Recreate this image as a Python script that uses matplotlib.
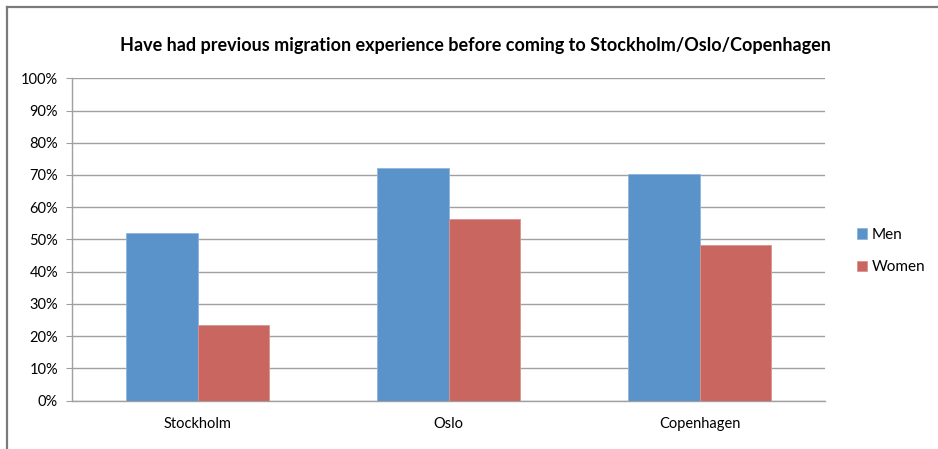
import matplotlib
matplotlib.use("Agg")
import matplotlib.pyplot as plt
from matplotlib.ticker import FuncFormatter, MultipleLocator
from matplotlib.lines import Line2D
import numpy as np

categories = ["Stockholm", "Oslo", "Copenhagen"]
men = [51.9, 72.1, 70.2]
women = [23.4, 56.4, 48.2]
series_names = ["Men", "Women"]
title = "Have had previous migration experience before coming to Stockholm/Oslo/Copenhagen"

plt.rcParams['font.family'] = ['Lato', 'DejaVu Sans']

fig = plt.figure(figsize=(9.38, 4.49), dpi=100)
bx, by = 7/938, 1 - 6.5/449
fig.lines.append(Line2D([bx, 1.01], [by, by], transform=fig.transFigure, color='#7a7a7a', linewidth=1.6))
fig.lines.append(Line2D([bx, bx], [-0.01, by], transform=fig.transFigure, color='#7a7a7a', linewidth=1.6))

ax = fig.add_axes([72/938, 1 - 400.5/449, (825 - 72)/938, (400.5 - 78.3)/449])

x = np.arange(len(categories))
w = 0.286
ax.bar(x - w/2, men, w, color='#5A93C9', edgecolor='#8FB4DC', linewidth=0.6, label=series_names[0], zorder=3)
ax.bar(x + w/2, women, w, color='#C9665F', edgecolor='#D99490', linewidth=0.6, label=series_names[1], zorder=3)

ax.set_xlim(-0.5, 2.5)
ax.set_ylim(0, 100)
ax.yaxis.set_major_locator(MultipleLocator(10))
ax.yaxis.set_major_formatter(FuncFormatter(lambda v, p: f"{int(v)}%"))
ax.set_xticks(x)
ax.set_xticklabels(categories, fontsize=10.5)
ax.tick_params(axis='y', labelsize=10.5, length=4, color='#a0a0a0', pad=6)
ax.tick_params(axis='x', length=0, pad=12)
ax.grid(axis='y', color='#a0a0a0', linewidth=1.0, zorder=0)
for s in ['top', 'right']:
    ax.spines[s].set_visible(False)
for s in ['left', 'bottom']:
    ax.spines[s].set_color('#a0a0a0')
    ax.spines[s].set_linewidth(1.0)

fig.text(475/938, 1 - 45/449, title, ha='center', va='center', fontsize=13, fontweight='bold')

leg = ax.legend(loc='center left', bbox_to_anchor=(851/938, 1 - 251/449), bbox_transform=fig.transFigure,
                frameon=False, fontsize=11, handlelength=0.65, handleheight=0.65, handletextpad=0.3,
                labelspacing=1.2, borderaxespad=0)

fig.savefig("out.png", dpi=100)
